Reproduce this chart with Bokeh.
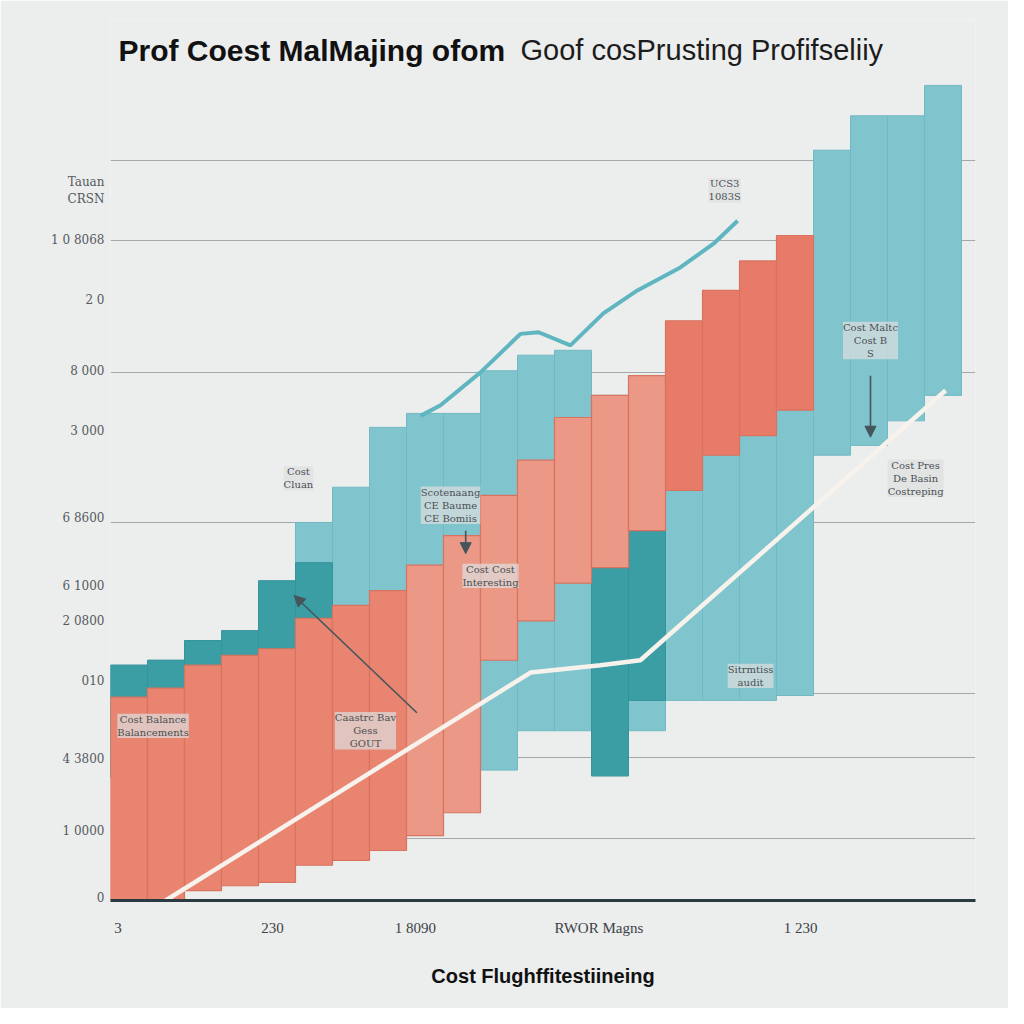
from bokeh.plotting import figure
from bokeh.models import Range1d, FixedTicker, Label, Arrow, NormalHead
from bokeh.embed import file_html
from bokeh.resources import INLINE

# ---------------- data ----------------
title_bold = "Prof Coest MalMajing ofom"
title_light = "Goof cosPrusting Profifseliiy"
x_title = "Cost Flughffitestiineing"

bar_idx = list(range(1, 20))
salmon_top = [24.8, 25.9, 28.7, 29.9, 30.7, 34.4, 36.0, 37.8, 40.9, 44.5,
              49.4, 53.7, 58.9, 61.6, 64.0, 70.7, 74.4, 78.0, 81.1]
salmon_bottom = [0.0, 0.0, 1.2, 1.8, 2.2, 4.3, 4.9, 6.1, 7.9, 10.7,
                 29.3, 34.1, 38.7, 40.6, 45.1, 50.0, 54.3, 56.7, 59.8]

teal_idx = list(range(1, 24))
teal_top = [28.7, 29.3, 31.7, 32.9, 37.2, 46.1, 50.4, 57.7, 59.4, 59.4,
            64.6, 66.5, 67.1, 61.6, 63.4, 70.1, 73.8, 77.4, 80.5,
            91.5, 95.7, 95.7, 99.4]
teal_bottom = [15.0, 15.0, 15.0, 15.0, 15.0, 15.0, 15.0, 15.0, 15.0, 15.0,
               15.9, 20.7, 20.7, 15.2, 20.7, 24.4, 24.4, 24.4, 25.0,
               54.3, 55.5, 58.5, 61.6]

dark_idx = [1, 2, 3, 4, 5, 6, 14, 15]
dark_top = [28.7, 29.3, 31.7, 32.9, 39.0, 41.2, 40.6, 45.1]
dark_bottom = [15.0, 15.0, 15.0, 15.0, 15.0, 15.0, 15.2, 24.4]

white_x = [1.99, 11.85, 13.74, 14.82, 23.07]
white_y = [0.0, 27.8, 28.7, 29.3, 62.2]

tline_x = [8.88, 9.42, 10.5, 11.58, 12.07, 12.93, 13.82, 14.74, 15.9, 16.8, 17.45]
tline_y = [59.1, 60.4, 64.4, 69.1, 69.3, 67.7, 71.6, 74.4, 77.2, 80.1, 82.9]

grid_vals = [90.2, 80.5, 64.4, 46.1, 25.2, 17.4, 7.6]

y_tick_vals = [86.6, 80.5, 73.2, 64.6, 57.3, 46.6, 38.4, 34.1, 26.8, 17.3, 8.5, 0.3]
y_tick_text = ["Tauan\nCRSN", "1 0 8068", "2 0", "8 000", "3 000", "6 8600",
               "6 1000", "2 0800", "010", "4 3800", "1 0000", "0"]

x_tick_vals = [0.7, 4.88, 8.74, 13.7, 19.15]
x_tick_text = ["3", "230", "1 8090", "RWOR Magns", "1 230"]

note_text = ["Cost\nCluan", "UCS3\n1083S", "Cost Maltc\nCost B\nS",
             "Cost Pres\nDe Basin\nCostreping", "Scotenaang\nCE Baume\nCE Bomiis",
             "Cost Cost\nInteresting", "Cost Balance\nBalancements",
             "Caastrc Bav\nGess\nGOUT", "Sitrmtiss\naudit"]
note_x = [5.58, 17.1, 21.04, 22.26, 9.69, 10.77, 1.65, 7.39, 17.8]
note_y = [51.5, 86.6, 68.3, 51.5, 48.2, 39.6, 21.3, 20.7, 27.4]

arrow_x0 = [8.78, 21.04, 10.1]
arrow_y0 = [22.9, 64.0, 45.1]
arrow_x1 = [5.46, 21.04, 10.1]
arrow_y1 = [37.2, 56.5, 42.3]

title_x = [0.716, 11.58]
title_y = [103.66, 103.66]

# ---------------- styles ----------------
BG = "#eceded"
TEAL = "#80c4cd"
DARK_TEAL = "#3b9ea5"
GRAY_TXT = "#555a5e"
salmon_colors = ["#e8846f"] * 8 + ["#ec9886"] * 7 + ["#e77b68"] * 4

PX = 37.0   # pixels per bar unit
PY = 8.2    # pixels per value unit

p = figure(width=1008, height=1008, output_backend="svg", toolbar_location=None,
           x_range=Range1d(0.5, 0.5 + 865 / PX), y_range=Range1d(0, 880 / PY),
           min_border_left=110, min_border_right=33, min_border_top=20,
           min_border_bottom=108)
p.background_fill_color = BG
p.border_fill_color = BG
p.outline_line_color = None

# grid
p.xgrid.grid_line_color = None
p.ygrid.ticker = FixedTicker(ticks=grid_vals)
p.ygrid.grid_line_color = "#a3a8ab"
p.ygrid.grid_line_width = 1.0

# axes
p.yaxis.ticker = FixedTicker(ticks=y_tick_vals)
p.yaxis.major_label_overrides = dict(zip(y_tick_vals, y_tick_text))
p.yaxis.axis_line_color = None
p.yaxis.major_tick_line_color = None
p.yaxis.minor_tick_line_color = None
p.yaxis.major_label_text_font = "DejaVu Serif"
p.yaxis.major_label_text_font_size = "12px"
p.yaxis.major_label_text_color = GRAY_TXT
p.yaxis.major_label_standoff = 0

p.xaxis.ticker = FixedTicker(ticks=x_tick_vals)
p.xaxis.major_label_overrides = dict(zip(x_tick_vals, x_tick_text))
p.xaxis.axis_line_color = "#2b3a40"
p.xaxis.axis_line_width = 3
p.xaxis.major_tick_line_color = None
p.xaxis.minor_tick_line_color = None
p.xaxis.major_label_text_font = "Liberation Sans Narrow"
p.xaxis.major_label_text_font_size = "15px"
p.xaxis.major_label_text_color = "#3c4246"
p.xaxis.major_label_standoff = 13
p.xaxis.axis_label = x_title
p.xaxis.axis_label_text_font = "Liberation Sans"
p.xaxis.axis_label_text_font_style = "bold"
p.xaxis.axis_label_text_font_size = "20px"
p.xaxis.axis_label_text_color = "#111111"
p.xaxis.axis_label_standoff = 26

# bars
p.vbar(x=teal_idx, top=teal_top, bottom=teal_bottom, width=1.0,
       fill_color=TEAL, line_color="#72bac3", line_width=1)
p.vbar(x=dark_idx, top=dark_top, bottom=dark_bottom, width=1.0,
       fill_color=DARK_TEAL, line_color="#36939a", line_width=1)
p.line(x=tline_x, y=tline_y, line_color="#5fb6c0", line_width=4)
p.vbar(x=bar_idx, top=salmon_top, bottom=salmon_bottom, width=1.0,
       fill_color=salmon_colors, line_color="#d8735f", line_width=1.2)
p.line(x=white_x, y=white_y, line_color="#f7f3ec", line_width=4.5)

# annotations
for t, xx, yy in zip(note_text, note_x, note_y):
    p.add_layout(Label(x=xx, y=yy, text=t, text_font="DejaVu Serif",
                       text_font_size="10px", text_color="#4a4f53",
                       text_align="center", text_baseline="middle",
                       background_fill_color="#dedfe0", background_fill_alpha=0.7))

for a, b, c, d in zip(arrow_x0, arrow_y0, arrow_x1, arrow_y1):
    p.add_layout(Arrow(end=NormalHead(size=11, fill_color="#45555c", line_color="#45555c"),
                       x_start=a, y_start=b, x_end=c, y_end=d,
                       line_color="#45555c", line_width=1.6))

# title (two weights)
p.add_layout(Label(x=title_x[0], y=title_y[0], text=title_bold, text_font="Liberation Sans",
                   text_font_style="bold", text_font_size="30px", text_color="#111111",
                   text_align="left", text_baseline="middle"))
p.add_layout(Label(x=title_x[1], y=title_y[1], text=title_light, text_font="Liberation Sans",
                   text_font_size="29px", text_color="#1c1c1c",
                   text_align="left", text_baseline="middle"))

open("out.html", "w").write(file_html(p, INLINE))
